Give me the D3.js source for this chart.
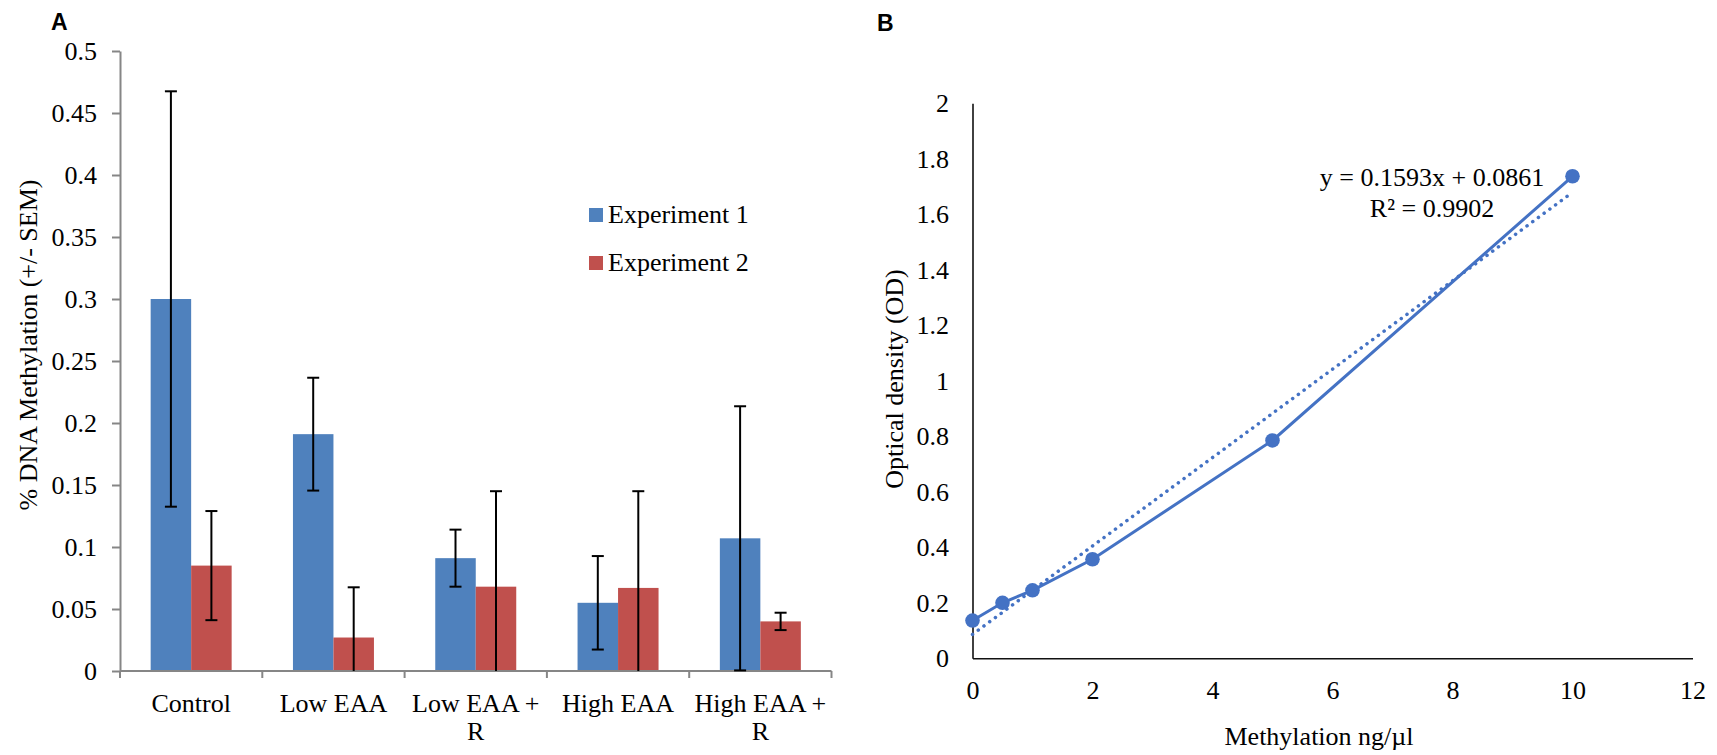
<!DOCTYPE html>
<html>
<head>
<meta charset="utf-8">
<script src="https://cdn.jsdelivr.net/npm/d3@7"></script>
<style>
  body { margin: 0; background: #fff; }
  svg text { font-family: "Liberation Serif", "Times New Roman", serif; fill: #000; }
</style>
</head>
<body>
<svg id="chart" width="1717" height="755"></svg>
<script>
// Panel A data: % DNA methylation per diet, two experiments (mean and SEM).
const categories = ["Control", "Low EAA", "Low EAA + R", "High EAA", "High EAA + R"];
const series = ["Experiment 1", "Experiment 2"];
const exp1Mean = [0.300, 0.191, 0.091, 0.055, 0.107];
const exp1Sem = [0.1675, 0.0455, 0.023, 0.0377, 0.1065];
const exp2Mean = [0.085, 0.027, 0.068, 0.067, 0.040];
const exp2Sem = [0.044, 0.0405, 0.077, 0.078, 0.007];
const yTicksA = [0, 0.05, 0.1, 0.15, 0.2, 0.25, 0.3, 0.35, 0.4, 0.45, 0.5];
const seriesColors = ["#4F81BD", "#C0504D"];

// Panel B data: standard curve.
const concentration = [0, 0.5, 1, 2, 5, 10];
const opticalDensity = [0.136, 0.200, 0.245, 0.357, 0.785, 1.737];
const xTicksB = [0, 2, 4, 6, 8, 10, 12];
const yTicksB = [0, 0.2, 0.4, 0.6, 0.8, 1, 1.2, 1.4, 1.6, 1.8, 2];
const fitSlope = 0.1593;
const fitIntercept = 0.0861;
const fitR2 = 0.9902;

const svg = d3.select("#chart");
const fontSize = "26px";
const serif = "'Liberation Serif', 'Times New Roman', serif";

// Make axis text use the page's serif font instead of d3's defaults.
function styleAxisText(g) {
  g.attr("font-family", null).attr("font-size", null);
  g.selectAll(".tick text")
    .attr("font-family", serif)
    .attr("font-size", 26)
    .style("font-family", serif)
    .style("font-size", fontSize);
}

// ---------- Panel A ----------
const gA = svg.append("g");
const yA = d3.scaleLinear().domain([0, 0.5]).range([671, 51]);
const xA = d3.scaleBand().domain(categories).range([120, 831.5]).paddingInner(0).paddingOuter(0);
const xSub = d3.scaleBand().domain(series).range([0, xA.bandwidth()]).paddingInner(0).paddingOuter(0.757);

// Panel letter.
gA.append("text")
  .attr("x", 51).attr("y", 30)
  .style("font-family", "'Liberation Sans', Arial, sans-serif")
  .style("font-weight", "bold")
  .style("font-size", "23px")
  .text("A");

// Y axis.
const yAxisA = gA.append("g")
  .attr("transform", "translate(120,0)")
  .call(d3.axisLeft(yA).tickValues(yTicksA).tickFormat(d => String(d)).tickSize(8).tickPadding(15).tickSizeOuter(0));
yAxisA.select(".domain").attr("stroke", "#868686").attr("stroke-width", 2);
yAxisA.selectAll(".tick line").attr("stroke", "#868686").attr("stroke-width", 2);
styleAxisText(yAxisA);

// Bars.
const barData = [];
categories.forEach((c, i) => {
  barData.push({ cat: c, s: series[0], v: exp1Mean[i], e: exp1Sem[i], color: seriesColors[0] });
  barData.push({ cat: c, s: series[1], v: exp2Mean[i], e: exp2Sem[i], color: seriesColors[1] });
});
gA.selectAll("rect.bar")
  .data(barData)
  .join("rect")
  .attr("class", "bar")
  .attr("x", d => xA(d.cat) + xSub(d.s))
  .attr("y", d => yA(d.v))
  .attr("width", xSub.bandwidth())
  .attr("height", d => yA(0) - yA(d.v))
  .attr("fill", d => d.color);

// X axis line and boundary ticks.
gA.append("line")
  .attr("x1", xA.range()[0]).attr("x2", xA.range()[1])
  .attr("y1", yA(0)).attr("y2", yA(0))
  .attr("stroke", "#868686").attr("stroke-width", 2);
const bounds = categories.map(c => xA(c)).concat([xA.range()[1]]);
gA.selectAll("line.xtick")
  .data(bounds)
  .join("line")
  .attr("class", "xtick")
  .attr("x1", d => d).attr("x2", d => d)
  .attr("y1", yA(0)).attr("y2", yA(0) + 7)
  .attr("stroke", "#868686").attr("stroke-width", 2);

// Error bars.
const capW = 12;
const errG = gA.selectAll("g.err")
  .data(barData)
  .join("g")
  .attr("class", "err")
  .attr("transform", d => `translate(${xA(d.cat) + xSub(d.s) + xSub.bandwidth() / 2},0)`);
errG.append("line")
  .attr("y1", d => yA(d.v + d.e))
  .attr("y2", d => yA(Math.max(0, d.v - d.e)))
  .attr("stroke", "#000").attr("stroke-width", 2);
errG.append("line")
  .attr("x1", -capW / 2).attr("x2", capW / 2)
  .attr("y1", d => yA(d.v + d.e)).attr("y2", d => yA(d.v + d.e))
  .attr("stroke", "#000").attr("stroke-width", 2);
errG.filter(d => d.v - d.e > 0).append("line")
  .attr("x1", -capW / 2).attr("x2", capW / 2)
  .attr("y1", d => yA(d.v - d.e)).attr("y2", d => yA(d.v - d.e))
  .attr("stroke", "#000").attr("stroke-width", 2);

// Category labels, wrapped to the band width.
const catLabels = gA.selectAll("text.cat")
  .data(categories)
  .join("text")
  .attr("class", "cat")
  .attr("x", d => xA(d) + xA.bandwidth() / 2)
  .attr("y", yA(0) + 40.5)
  .attr("text-anchor", "middle")
  .style("font-size", fontSize);
catLabels.each(function(d) {
  const t = d3.select(this);
  const words = d.split(" ");
  let line = [];
  let tspan = t.append("tspan").attr("x", t.attr("x")).attr("dy", 0);
  words.forEach(w => {
    line.push(w);
    tspan.text(line.join(" "));
    if (tspan.node().getComputedTextLength() > xA.bandwidth() - 4 && line.length > 1) {
      line.pop();
      tspan.text(line.join(" "));
      line = [w];
      tspan = t.append("tspan").attr("x", t.attr("x")).attr("dy", "1.1em").text(w);
    }
  });
});

// Y axis title.
gA.append("text")
  .attr("transform", "translate(37,345) rotate(-90)")
  .attr("text-anchor", "middle")
  .style("font-size", fontSize)
  .text("% DNA Methylation (+/- SEM)");

// Legend.
const legend = gA.selectAll("g.legend")
  .data(series)
  .join("g")
  .attr("class", "legend")
  .attr("transform", (d, i) => `translate(589,${208 + i * 48})`);
legend.append("rect")
  .attr("width", 14).attr("height", 14)
  .attr("fill", (d, i) => seriesColors[i]);
legend.append("text")
  .attr("x", 19).attr("y", 14.5)
  .style("font-size", fontSize)
  .text(d => d);

// ---------- Panel B ----------
const gB = svg.append("g");
const xB = d3.scaleLinear().domain([0, 12]).range([972.5, 1692.5]);
const yB = d3.scaleLinear().domain([0, 2]).range([658.3, 103.3]);

gB.append("text")
  .attr("x", 877).attr("y", 30.5)
  .style("font-family", "'Liberation Sans', Arial, sans-serif")
  .style("font-weight", "bold")
  .style("font-size", "23px")
  .text("B");

const xAxisB = gB.append("g")
  .attr("transform", `translate(0,${yB(0)})`)
  .call(d3.axisBottom(xB).tickValues(xTicksB).tickSize(0).tickPadding(22).tickSizeOuter(0));
xAxisB.select(".domain").attr("stroke", "#111").attr("stroke-width", 1.6);
styleAxisText(xAxisB);

const yAxisB = gB.append("g")
  .attr("transform", `translate(${xB(0)},0)`)
  .call(d3.axisLeft(yB).tickValues(yTicksB).tickFormat(d => String(d)).tickSize(0).tickPadding(23.5).tickSizeOuter(0));
yAxisB.select(".domain").attr("stroke", "#111").attr("stroke-width", 1.6);
styleAxisText(yAxisB);

const pts = concentration.map((c, i) => ({ x: c, y: opticalDensity[i] }));

// Linear trend line (dotted).
const xFit = d3.extent(concentration);
gB.append("line")
  .attr("x1", xB(xFit[0])).attr("y1", yB(fitSlope * xFit[0] + fitIntercept))
  .attr("x2", xB(xFit[1])).attr("y2", yB(fitSlope * xFit[1] + fitIntercept))
  .attr("stroke", "#4472C4")
  .attr("stroke-width", 3.5)
  .attr("stroke-linecap", "round")
  .attr("stroke-dasharray", "0.1,7");

// Data line and markers.
gB.append("path")
  .datum(pts)
  .attr("fill", "none")
  .attr("stroke", "#4472C4")
  .attr("stroke-width", 3)
  .attr("d", d3.line().x(d => xB(d.x)).y(d => yB(d.y)));
gB.selectAll("circle")
  .data(pts)
  .join("circle")
  .attr("cx", d => xB(d.x))
  .attr("cy", d => yB(d.y))
  .attr("r", 7.3)
  .attr("fill", "#4472C4");

// Fit equation.
gB.append("text")
  .attr("x", 1432).attr("y", 186)
  .attr("text-anchor", "middle")
  .style("font-size", fontSize)
  .text(`y = ${fitSlope}x + ${fitIntercept}`);
gB.append("text")
  .attr("x", 1432).attr("y", 216.5)
  .attr("text-anchor", "middle")
  .style("font-size", fontSize)
  .text(`R² = ${fitR2}`);

// Axis titles.
gB.append("text")
  .attr("x", 1319).attr("y", 745)
  .attr("text-anchor", "middle")
  .style("font-size", fontSize)
  .text("Methylation ng/µl");
gB.append("text")
  .attr("transform", "translate(903,379) rotate(-90)")
  .attr("text-anchor", "middle")
  .style("font-size", fontSize)
  .text("Optical density (OD)");
</script>
</body>
</html>
